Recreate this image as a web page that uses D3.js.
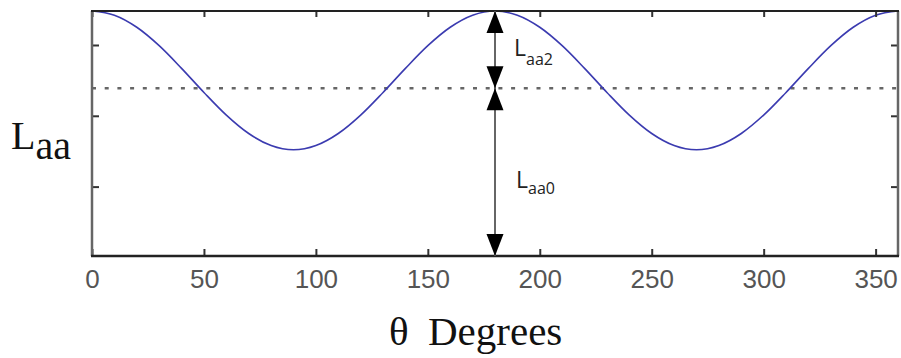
<!DOCTYPE html>
<html>
<head>
<meta charset="utf-8">
<script src="https://cdn.jsdelivr.net/npm/d3@7"></script>
<style>
  body { margin: 0; background: #fff; }
  svg { display: block; }
</style>
</head>
<body>
<svg id="chart" width="901" height="358"></svg>
<script>
// Angle samples (degrees) and the inductance (arbitrary units).
const theta = [0, 10, 20, 30, 40, 50, 60, 70, 80, 90, 100, 110, 120, 130, 140, 150, 160, 170, 180,
  190, 200, 210, 220, 230, 240, 250, 260, 270, 280, 290, 300, 310, 320, 330, 340, 350, 360];
const laa = [3.48, 3.42, 3.25, 2.99, 2.67, 2.33, 2.01, 1.75, 1.58, 1.52, 1.58, 1.75, 2.01, 2.33, 2.67, 2.99, 3.25, 3.42, 3.48,
  3.42, 3.25, 2.99, 2.67, 2.33, 2.01, 1.75, 1.58, 1.52, 1.58, 1.75, 2.01, 2.33, 2.67, 2.99, 3.25, 3.42, 3.48];
const xTicks = [0, 50, 100, 150, 200, 250, 300, 350];
const yTicks = [1, 2, 3];
const dottedLevel = 2.39;   // Laa0 level
const arrowAt = 180;        // where the Laa0 / Laa2 arrows sit

const box = {left: 92, right: 898, top: 11, bottom: 256};

const svg = d3.select('#chart');

const x = d3.scaleLinear().domain([0, 360]).range([box.left, box.right]);
const y = d3.scaleLinear().domain([0.02, 3.48]).range([box.bottom, box.top]);

// Dotted reference line.
svg.append('line')
    .attr('x1', box.left).attr('x2', box.right)
    .attr('y1', y(dottedLevel)).attr('y2', y(dottedLevel))
    .attr('stroke', '#666').attr('stroke-width', 2.5)
    .attr('stroke-dasharray', '4 8.7');

// Curve.
const line = d3.line()
    .x((d, i) => x(theta[i]))
    .y(d => y(d))
    .curve(d3.curveMonotoneX);
svg.append('path').datum(laa)
    .attr('d', line)
    .attr('fill', 'none')
    .attr('stroke', '#3b3bb0')
    .attr('stroke-width', 1.6);

// Axes (ticks point inward, like the original).
const bottomAxis = svg.append('g')
    .attr('transform', `translate(0, ${box.bottom})`)
    .call(d3.axisBottom(x).tickValues(xTicks).tickSize(-7).tickPadding(14));
bottomAxis.select('.domain').remove();
bottomAxis.selectAll('text')
    .attr('font-family', '"Liberation Sans", Arial, sans-serif')
    .attr('font-size', 26)
    .attr('fill', '#555');

const topAxis = svg.append('g')
    .attr('transform', `translate(0, ${box.top})`)
    .call(d3.axisTop(x).tickValues(xTicks).tickSize(-6).tickFormat(''));
topAxis.select('.domain').remove();

const leftAxis = svg.append('g')
    .attr('transform', `translate(${box.left}, 0)`)
    .call(d3.axisLeft(y).tickValues(yTicks).tickSize(-7).tickFormat(''));
leftAxis.select('.domain').remove();

const rightAxis = svg.append('g')
    .attr('transform', `translate(${box.right}, 0)`)
    .call(d3.axisRight(y).tickValues(yTicks).tickSize(-7).tickFormat(''));
rightAxis.select('.domain').remove();

svg.selectAll('.tick line').attr('stroke', '#333').attr('stroke-width', 2);

// Frame.
svg.append('line').attr('x1', box.left).attr('x2', box.left)
    .attr('y1', box.top).attr('y2', box.bottom)
    .attr('stroke', '#666').attr('stroke-width', 2.5);
svg.append('line').attr('x1', box.right).attr('x2', box.right)
    .attr('y1', box.top).attr('y2', box.bottom)
    .attr('stroke', '#666').attr('stroke-width', 2.5);
svg.append('line').attr('x1', box.left - 1).attr('x2', box.right + 1)
    .attr('y1', box.top).attr('y2', box.top)
    .attr('stroke', '#222').attr('stroke-width', 2);
svg.append('line').attr('x1', box.left - 1).attr('x2', box.right + 1)
    .attr('y1', box.bottom).attr('y2', box.bottom)
    .attr('stroke', '#222').attr('stroke-width', 2.5);

// Dimension arrows.
const ax = x(arrowAt);
svg.append('line').attr('x1', ax).attr('x2', ax)
    .attr('y1', y(d3.max(laa))).attr('y2', y.range()[0])
    .attr('stroke', '#666').attr('stroke-width', 2);

function arrowHead(tipY, dir) {
  // dir = -1 points up, +1 points down
  const h = 22, w = 8.5;
  svg.append('path')
      .attr('d', `M${ax},${tipY} L${ax - w},${tipY - dir * h} L${ax + w},${tipY - dir * h} Z`)
      .attr('fill', '#000');
}
arrowHead(y(d3.max(laa)), -1);
arrowHead(y(dottedLevel), 1);
arrowHead(y(dottedLevel), -1);
arrowHead(y.range()[0], 1);

const sans = '"Open Sans", "Liberation Sans", sans-serif';
const laa2 = svg.append('text').attr('x', 514).attr('y', 56)
    .attr('font-family', sans).attr('font-size', 23).attr('fill', '#222');
laa2.append('tspan').text('L');
laa2.append('tspan').attr('dy', 9).attr('font-size', 16).text('aa2');

const laa0 = svg.append('text').attr('x', 516).attr('y', 188)
    .attr('font-family', sans).attr('font-size', 23).attr('fill', '#222');
laa0.append('tspan').text('L');
laa0.append('tspan').attr('dy', 6).attr('font-size', 16).text('aa0');

// Axis titles.
const serif = '"Liberation Serif", "Times New Roman", serif';
const yTitle = svg.append('text').attr('x', 11).attr('y', 149)
    .attr('font-family', serif).attr('font-size', 40).attr('fill', '#111');
yTitle.append('tspan').text('L');
yTitle.append('tspan').attr('dy', 10).text('aa');

svg.append('text').attr('x', 389).attr('y', 345)
    .attr('font-family', serif).attr('font-size', 41).attr('fill', '#111')
    .text('θ');
svg.append('text').attr('x', 428).attr('y', 345)
    .attr('font-family', serif).attr('font-size', 41).attr('fill', '#111')
    .text('Degrees');
</script>
</body>
</html>
